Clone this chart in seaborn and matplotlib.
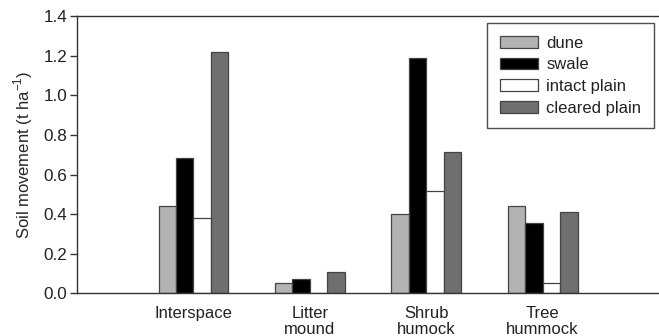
import matplotlib
matplotlib.use("Agg")
import matplotlib.pyplot as plt
import seaborn as sns
import pandas as pd

# Soil movement by microsite and landscape position
microsites = ["Interspace", "Litter\nmound", "Shrub\nhumock", "Tree\nhummock"]
positions = ["dune", "swale", "intact plain", "cleared plain"]
dune = [0.442, 0.054, 0.400, 0.442]
swale = [0.685, 0.072, 1.190, 0.353]
intact_plain = [0.382, 0.003, 0.516, 0.050]
cleared_plain = [1.220, 0.106, 0.713, 0.409]

colors = ["#b3b3b3", "#000000", "#ffffff", "#6f6f6f"]

rows = []
for pos, vals in zip(positions, [dune, swale, intact_plain, cleared_plain]):
    for site, v in zip(microsites, vals):
        rows.append({"microsite": site, "position": pos, "value": v})
df = pd.DataFrame(rows)

sns.set_theme(style="white")
plt.rcParams["font.family"] = ["Liberation Sans", "DejaVu Sans"]

fs = 12

fig = plt.figure(figsize=(6.59, 3.36), dpi=100)
ax = fig.add_axes([0.117, 0.127, 0.883, 0.825])

sns.barplot(data=df, x="microsite", y="value", hue="position",
            order=microsites, hue_order=positions, palette=colors,
            width=0.6, edgecolor="#444444", linewidth=0.9,
            saturation=1, errorbar=None, ax=ax)

ax.set_xlim(-1, 4)
ax.set_ylim(0, 1.4)
ax.set_yticks([0, 0.2, 0.4, 0.6, 0.8, 1.0, 1.2, 1.4])
ax.set_yticklabels([f"{t:.1f}" for t in ax.get_yticks()])
ax.set_xlabel("")
ax.set_ylabel("Soil movement (t ha$^{\\mathregular{-1}}$)", fontsize=fs,
              labelpad=6)

for side in ["left", "bottom", "top"]:
    ax.spines[side].set_color("#333333")
    ax.spines[side].set_linewidth(1.0)
ax.spines["right"].set_visible(False)

ax.tick_params(axis="y", which="both", left=True, direction="out",
               length=5, width=1, color="#333333", labelsize=12.3, pad=2,
               labelcolor="#222222")
ax.tick_params(axis="x", length=0, labelsize=fs, pad=9,
               labelcolor="#222222")
for lbl in ax.get_xticklabels():
    lbl.set_linespacing(1.1)

leg = ax.legend(loc="upper right", bbox_to_anchor=(0.991, 0.975),
                borderaxespad=0, frameon=True, fancybox=False,
                fontsize=fs, handlelength=2.3, handleheight=0.7,
                handletextpad=0.5, labelspacing=0.4, borderpad=0.75)
leg.get_frame().set_edgecolor("#222222")
leg.get_frame().set_linewidth(1.0)
for h in leg.legend_handles:
    h.set_edgecolor("#444444")
for t in leg.get_texts():
    t.set_color("#222222")

fig.savefig("out.png", dpi=100)
